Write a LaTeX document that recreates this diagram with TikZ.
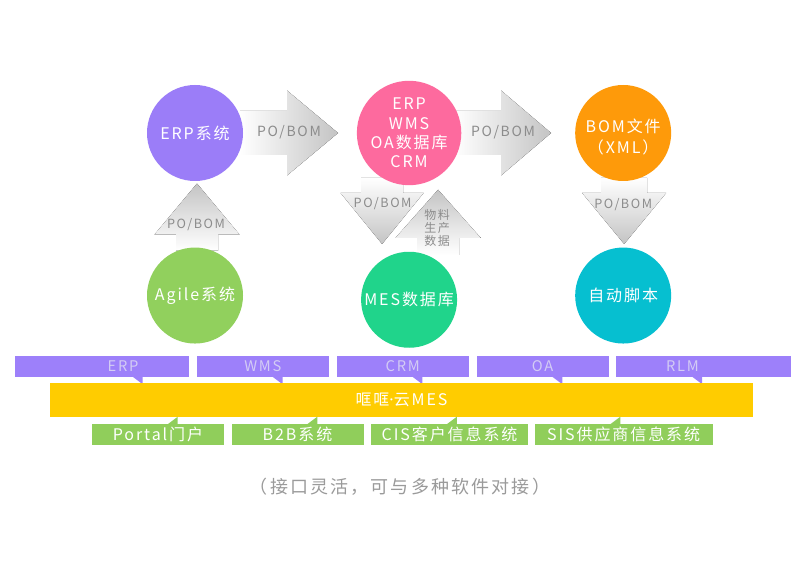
\documentclass[tikz,border=0pt]{standalone}
\usepackage{fontspec}
\setmainfont{Noto Sans CJK SC}[LetterSpace=12]
\newfontfamily\dotfont{Noto Sans}[LetterSpace=12]
\usetikzlibrary{positioning,calc,backgrounds}

\definecolor{erpPurple}{HTML}{9B7DF8}
\definecolor{hubPink}{HTML}{FD6A9E}
\definecolor{bomOrange}{HTML}{FE9A0A}
\definecolor{agileGreen}{HTML}{91D05D}
\definecolor{mesGreen}{HTML}{20D48B}
\definecolor{scriptTeal}{HTML}{06BFD0}
\definecolor{barPurple}{HTML}{9D80FA}
\definecolor{barText}{HTML}{D3CCF4}
\definecolor{barYellow}{HTML}{FFCC00}
\definecolor{barGreen}{HTML}{90CE5B}
\definecolor{arrowGray}{HTML}{C4C4C4}
\definecolor{labelGray}{HTML}{8C8C8C}
\definecolor{capGray}{HTML}{9A9A9A}

\begin{document}
\begin{tikzpicture}[
    x=0.75pt, y=0.75pt,
    circ/.style={circle, inner sep=0pt, minimum size=72pt, text=white, align=center, font=\fontsize{12}{14.6}\selectfont},
    topbar/.style={rectangle, fill=barPurple, inner sep=0pt, minimum width=99pt, minimum height=15.75pt, text=barText, font=\fontsize{11}{13}\selectfont},
    botbar/.style={rectangle, fill=barGreen, inner sep=0pt, minimum width=99pt, minimum height=15.75pt, text=white, font=\fontsize{12}{14}\selectfont},
    rshade/.style={left color=white, right color=arrowGray},
    ushade/.style={bottom color=white, top color=arrowGray},
    dshade/.style={top color=white, bottom color=arrowGray},
    flowlabel/.style={text=labelGray, font=\fontsize{10.5}{12}\selectfont},
    vlabel/.style={text=labelGray, align=center, font=\fontsize{9.5}{9.75}\selectfont},
]

\useasboundingbox (0,0) rectangle (800,-570);

% Systems (circles)
\node[circ, fill=erpPurple] (erp) at (195,-133) {ERP系统};
\node[circ, fill=hubPink, right=85pt of erp] (hub) {ERP\\WMS\\OA数据库\\CRM};
\node[circ, fill=bomOrange, right=85pt of hub] (bom) {\raisebox{-4.5pt}[\height][\depth]{\begin{tabular}{@{}c@{}}BOM文件\\[1.5pt]（XML）\end{tabular}}};
\node[circ, fill=agileGreen, below=49.5pt of erp] (agile) {Agile系统};
\node[circ, fill=mesGreen, below=49.5pt of hub] (mes) {MES数据库};
\node[circ, fill=scriptTeal, below=49.5pt of bom] (script) {自动脚本};

% Block arrows (behind the circles)
\begin{scope}[on background layer]
\fill[white] (0,0) rectangle (800,-570);
\fill[rshade, shift={(erp.center)}] (45,22) -- (92,22) -- (92,42.5) -- (143,0) -- (92,-42.5) -- (92,-22) -- (45,-22) -- cycle;
\fill[rshade, shift={(hub.center)}] (45,22) -- (92,22) -- (92,42.5) -- (142,0) -- (92,-42.5) -- (92,-22) -- (45,-22) -- cycle;
\fill[ushade, shift={(agile.center)}] (-19,45) -- (-19,61) -- (-40.5,61) -- (2,112) -- (44.5,61) -- (23,61) -- (23,45) -- cycle;
\fill[dshade, shift={(hub.center)}] (-48,-45) -- (-48,-60) -- (-68.5,-60) -- (-27,-111) -- (14.5,-60) -- (-6,-60) -- (-6,-45) -- cycle;
\fill[ushade, shift={(mes.center)}] (8,45) -- (8,62) -- (-13.5,62) -- (29,110) -- (71.5,62) -- (50,62) -- (50,45) -- cycle;
\fill[dshade, shift={(bom.center)}] (-22,-45) -- (-22,-60) -- (-41,-60) -- (1,-111) -- (43,-60) -- (24,-60) -- (24,-45) -- cycle;
\end{scope}

% Arrow labels
\node[flowlabel] (lblA) at ($(erp.center)+(94,1)$) {PO/BOM};
\node[flowlabel] (lblB) at ($(hub.center)+(94,1)$) {PO/BOM};
\node[vlabel] (lblC) at ($(agile.center)+(1,71)$) {PO/BOM};
\node[vlabel] (lblD) at ($(hub.center)+(-26.5,-71)$) {PO/BOM};
\node[vlabel, font=\fontsize{9}{9.75}\selectfont] (lblE) at ($(mes.center)+(28,72)$) {物料\\生产\\数据};
\node[vlabel] (lblF) at ($(bom.center)+(0,-72)$) {PO/BOM};

% Interface bar (top)
\node[topbar] (erpbar) at (123,-366.5) {ERP};
\node[topbar, right=5.5pt of erpbar] (wmsbar) {WMS};
\node[topbar, right=5.5pt of wmsbar] (crmbar) {CRM};
\node[topbar, right=5.5pt of crmbar] (oabar) {OA};
\node[topbar, right=5.5pt of oabar] (rlmbar) {RLM};
\begin{scope}[on background layer]
\fill[barPurple] ($(erpbar.south west)+(3,0)$) rectangle ($(erpbar.north west)+(-42,0)$);
\fill[barPurple] ($(rlmbar.south east)+(-3,0)$) rectangle ($(rlmbar.north east)+(42,0)$);
\end{scope}
\foreach \b in {erpbar,wmsbar,crmbar,oabar,rlmbar}
  \fill[barPurple, shift={(\b.south west)}] (76,0.5) -- (86,0.5) -- (86,-7) -- cycle;

% Platform
\node[rectangle, fill=barYellow, inner sep=0pt, minimum width=527.25pt, minimum height=25.5pt, text=white, font=\fontsize{12}{14}\selectfont] (platform) at (401.5,-400) {哐哐{\dotfont ·}云MES};

% Interface bar (bottom)
\node[botbar] (portalbar) at (158,-434.5) {Portal门户};
\node[botbar, right=5.25pt of portalbar] (b2bbar) {B2B系统};
\node[botbar, minimum width=117.75pt, right=5.25pt of b2bbar] (cisbar) {CIS客户信息系统};
\node[botbar, minimum width=133.5pt, right=4.5pt of cisbar] (sisbar) {SIS供应商信息系统};
\foreach \b in {portalbar,b2bbar,cisbar,sisbar}
  \fill[barGreen, shift={(\b.north west)}] (76,-0.5) -- (86,-0.5) -- (86,7) -- cycle;

% Note
\node[text=capGray, font=\fontsize{13.5}{16}\selectfont] (note) at (400,-487) {（接口灵活，可与多种软件对接）};

\end{tikzpicture}
\end{document}
